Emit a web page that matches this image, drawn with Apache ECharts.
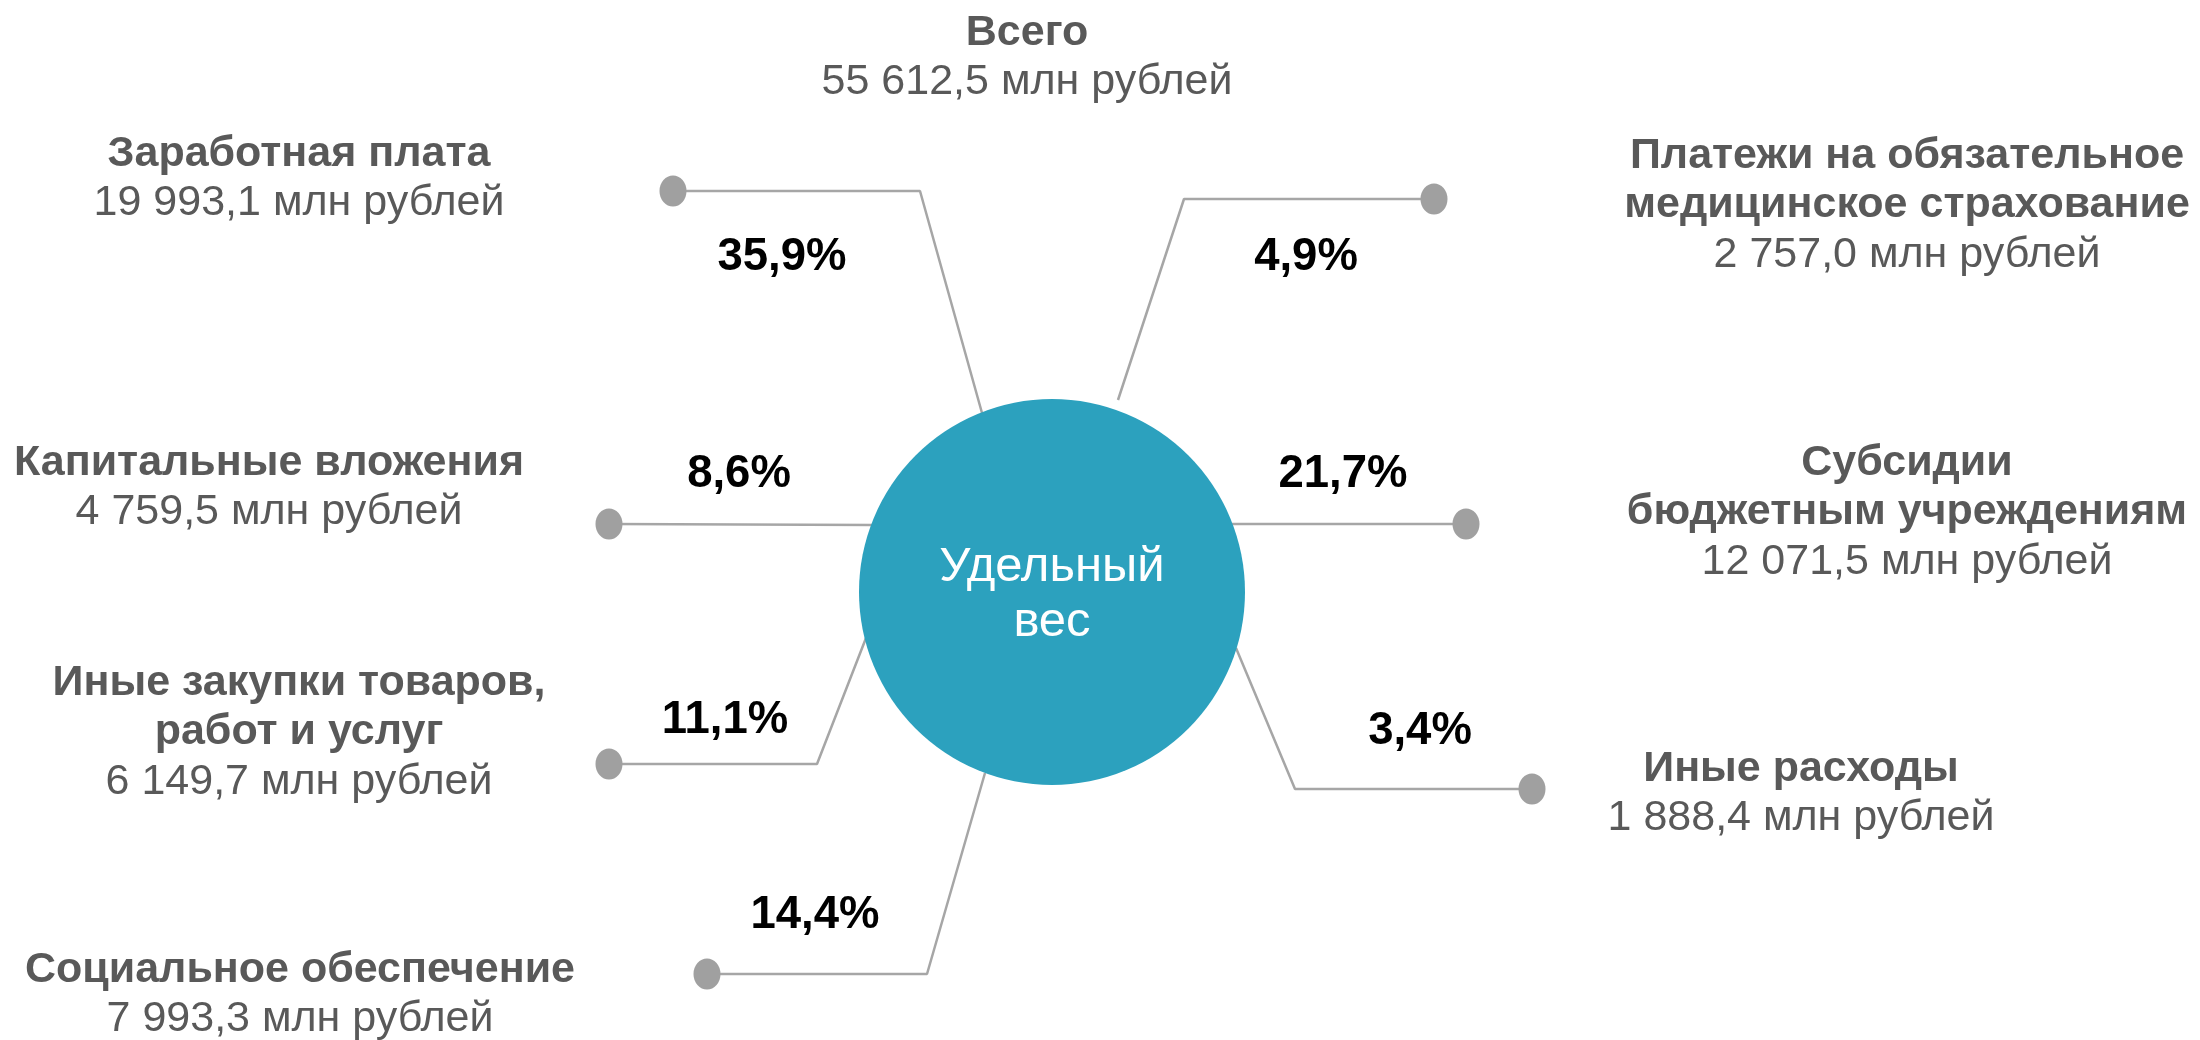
<!DOCTYPE html>
<html>
<head>
<meta charset="utf-8">
<title>Удельный вес расходов</title>
<script src="https://cdn.jsdelivr.net/npm/echarts@6/dist/echarts.min.js"></script>
<style>
  html, body { margin: 0; padding: 0; background: #ffffff; }
  #chart { width: 2200px; height: 1040px; }
</style>
</head>
<body>
<div id="chart"></div>
<script>
// данные
const categories = [
  'Заработная плата',
  'Платежи на обязательное\nмедицинское страхование',
  'Капитальные вложения',
  'Субсидии\nбюджетным учреждениям',
  'Иные закупки товаров,\nработ и услуг',
  'Иные расходы',
  'Социальное обеспечение'
];
const amounts = [19993.1, 2757.0, 4759.5, 12071.5, 6149.7, 1888.4, 7993.3];
const shares = [35.9, 4.9, 8.6, 21.7, 11.1, 3.4, 14.4];
const totalTitle = 'Всего';
const totalAmount = 55612.5;
const hubText = 'Удельный\nвес';
const unit = 'млн рублей';

// разметка, в пикселях холста 2200x1040
const hubPos = [1052, 592];
const dotPos = [[673, 191], [1434, 199], [609, 524], [1466, 524], [609, 764], [1532, 789], [707, 974]];
const bendPos = [[920, 191], [1184, 199], null, null, [817, 764], [1295, 789], [927, 974]];
const edgePos = [[982, 413], [1118, 400], [874, 525], [1232, 524], [866, 638], [1236, 648], [985, 773]];
const sharePos = [[782, 257], [1306, 257], [739, 474], [1343, 474], [725, 720], [1420, 731], [815, 915]];
const labelPos = [[299, 179], [1907, 206], [269, 488], [1907, 513], [299, 733], [1801, 794], [300, 995]];
const totalPos = [1027, 58];

const FONT = '"Liberation Sans", Arial, sans-serif';
const GREY = '#595959';

function fmtMoney(v) {
  let parts = v.toFixed(1).split('.');
  return parts[0].replace(/\B(?=(\d{3})+(?!\d))/g, ' ') + ',' + parts[1];
}
function fmtShare(v) {
  return v.toFixed(1).replace('.', ',') + '%';
}
function blockText(title, amount) {
  let lines = title.split('\n').map(t => '{t|' + t + '}');
  lines.push('{v|' + fmtMoney(amount) + ' ' + unit + '}');
  return lines.join('\n');
}
const richStyle = {
  t: { fontFamily: FONT, fontSize: 43, fontWeight: 'bold', color: GREY, lineHeight: 49, align: 'center' },
  v: { fontFamily: FONT, fontSize: 43, color: GREY, lineHeight: 50, align: 'center' }
};

let myChart = echarts.init(document.getElementById('chart'));

// линии-выноски
let leaderSeries = categories.map((c, i) => {
  let pts = [dotPos[i]];
  if (bendPos[i]) pts.push(bendPos[i]);
  pts.push(edgePos[i]);
  return {
    type: 'line',
    data: pts,
    symbol: 'none',
    silent: true,
    z: 1,
    lineStyle: { color: '#a6a6a6', width: 2.5 }
  };
});

myChart.setOption({
  animation: false,
  backgroundColor: '#ffffff',
  grid: { left: 0, right: 0, top: 0, bottom: 0 },
  xAxis: { type: 'value', min: 0, max: 2200, show: false },
  yAxis: { type: 'value', min: 0, max: 1040, inverse: true, show: false },
  series: leaderSeries.concat([
    {
      // центральный круг
      type: 'scatter',
      data: [hubPos],
      symbol: 'circle',
      symbolSize: 386,
      z: 2,
      silent: true,
      itemStyle: { color: '#2ca1be', opacity: 1 },
      label: {
        show: true,
        position: 'inside',
        offset: [0, 3],
        formatter: hubText,
        fontFamily: FONT,
        fontSize: 49,
        lineHeight: 55,
        color: '#ffffff',
        align: 'center'
      }
    },
    {
      // точки на концах выносок
      type: 'scatter',
      data: dotPos,
      symbol: 'circle',
      symbolSize: [27, 31],
      z: 3,
      silent: true,
      itemStyle: { color: '#a0a0a0', opacity: 1 }
    },
    {
      // проценты
      type: 'scatter',
      data: sharePos,
      symbolSize: 0,
      silent: true,
      itemStyle: { opacity: 1 },
      label: {
        show: true,
        position: 'inside',
        formatter: p => fmtShare(shares[p.dataIndex]),
        fontFamily: FONT,
        fontSize: 45.5,
        fontWeight: 'bold',
        color: '#000000'
      }
    },
    {
      // подписи статей
      type: 'scatter',
      data: labelPos,
      symbolSize: 0,
      silent: true,
      itemStyle: { opacity: 1 },
      label: {
        show: true,
        position: 'inside',
        align: 'center',
        formatter: p => blockText(categories[p.dataIndex], amounts[p.dataIndex]),
        rich: richStyle
      }
    },
    {
      // итог
      type: 'scatter',
      data: [totalPos],
      symbolSize: 0,
      silent: true,
      itemStyle: { opacity: 1 },
      label: {
        show: true,
        position: 'inside',
        align: 'center',
        formatter: () => blockText(totalTitle, totalAmount),
        rich: richStyle
      }
    }
  ])
});

window.addEventListener('resize', () => {
  myChart.resize();
});
</script>
</body>
</html>
